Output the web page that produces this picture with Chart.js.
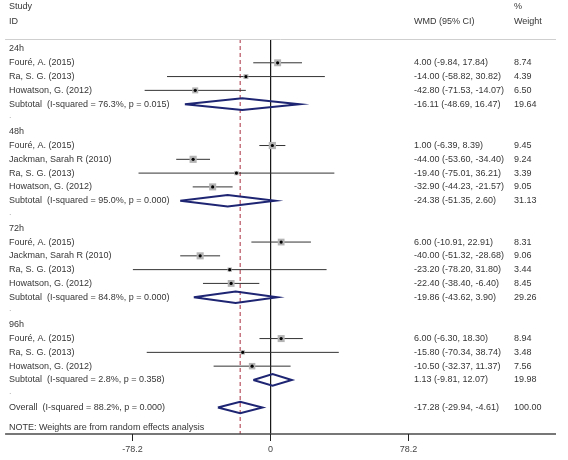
<!DOCTYPE html>
<html>
<head>
<meta charset="utf-8">
<script src="https://cdn.jsdelivr.net/npm/chart.js@4"></script>
<style>
  html, body { margin: 0; padding: 0; background: #fff; }
  #wrap { width: 568px; height: 460px; }
</style>
</head>
<body>
<div id="wrap"><canvas id="forest" width="568" height="460"></canvas></div>
<script>
// Group headers and their row positions
const groupLabels = ['24h', '48h', '72h', '96h'];
const groupRows = [0, 6, 13, 20];
const blankRows = [5, 12, 19, 25];

// Individual studies
const studyLabels = [
    'Fouré, A. (2015)', 'Ra, S. G. (2013)', 'Howatson, G. (2012)',
    'Fouré, A. (2015)', 'Jackman, Sarah R (2010)', 'Ra, S. G. (2013)', 'Howatson, G. (2012)',
    'Fouré, A. (2015)', 'Jackman, Sarah R (2010)', 'Ra, S. G. (2013)', 'Howatson, G. (2012)',
    'Fouré, A. (2015)', 'Ra, S. G. (2013)', 'Howatson, G. (2012)'
];
const studyRows = [1, 2, 3, 7, 8, 9, 10, 14, 15, 16, 17, 21, 22, 23];
const studyWmd = [4.00, -14.00, -42.80, 1.00, -44.00, -19.40, -32.90, 6.00, -40.00, -23.20, -22.40, 6.00, -15.80, -10.50];
const studyLow = [-9.84, -58.82, -71.53, -6.39, -53.60, -75.01, -44.23, -10.91, -51.32, -78.20, -38.40, -6.30, -70.34, -32.37];
const studyHigh = [17.84, 30.82, -14.07, 8.39, -34.40, 36.21, -21.57, 22.91, -28.68, 31.80, -6.40, 18.30, 38.74, 11.37];
const studyWeight = [8.74, 4.39, 6.50, 9.45, 9.24, 3.39, 9.05, 8.31, 9.06, 3.44, 8.45, 8.94, 3.48, 7.56];

// Subtotals and overall
const pooledLabels = [
    'Subtotal  (I-squared = 76.3%, p = 0.015)',
    'Subtotal  (I-squared = 95.0%, p = 0.000)',
    'Subtotal  (I-squared = 84.8%, p = 0.000)',
    'Subtotal  (I-squared = 2.8%, p = 0.358)',
    'Overall  (I-squared = 88.2%, p = 0.000)'
];
const pooledRows = [4, 11, 18, 24, 26];
const pooledWmd = [-16.11, -24.38, -19.86, 1.13, -17.28];
const pooledLow = [-48.69, -51.35, -43.62, -9.81, -29.94];
const pooledHigh = [16.47, 2.60, 3.90, 12.07, -4.61];
const pooledWeight = [19.64, 31.13, 29.26, 19.98, 100.00];

const xTicks = [-78.2, 0, 78.2];
const overallWmd = pooledWmd[pooledWmd.length - 1];

const X_MIN = -150.78, X_MAX = 162.1;
const Y_MIN = -0.725, Y_MAX = 27.92;
const FONT = '9px "Liberation Sans", Arial, sans-serif';
const TEXT = '#363636';

const datasets = [];

// reference lines
datasets.push({
    type: 'line', order: 5,
    data: [{ x: 0, y: Y_MIN }, { x: 0, y: Y_MAX }],
    borderColor: '#1a1a1a', borderWidth: 1, pointRadius: 0
});
datasets.push({
    type: 'line', order: 5,
    data: [{ x: overallWmd, y: Y_MIN }, { x: overallWmd, y: Y_MAX }],
    borderColor: '#a8303f', borderWidth: 1, borderDash: [4, 3], pointRadius: 0
});

// confidence intervals
studyRows.forEach((r, i) => {
    datasets.push({
        type: 'line', order: 3,
        data: [{ x: studyLow[i], y: r }, { x: studyHigh[i], y: r }],
        borderColor: '#333', borderWidth: 1, pointRadius: 0
    });
});

// weight squares (area ~ weight)
datasets.push({
    type: 'scatter', order: 2,
    data: studyRows.map((r, i) => ({ x: studyWmd[i], y: r })),
    pointStyle: 'rect',
    pointRadius: studyWeight.map(w => 2.35 * Math.sqrt(w) / Math.SQRT2),
    backgroundColor: '#b4b4b4', borderWidth: 0
});

// point estimates
datasets.push({
    type: 'scatter', order: 1,
    data: studyRows.map((r, i) => ({ x: studyWmd[i], y: r })),
    pointStyle: 'circle', pointRadius: 1.6,
    backgroundColor: '#000', borderWidth: 0
});

// diamonds
const halfH = 0.42;
pooledRows.forEach((r, i) => {
    datasets.push({
        type: 'line', order: 1,
        data: [
            { x: pooledLow[i], y: r },
            { x: pooledWmd[i], y: r - halfH },
            { x: pooledHigh[i], y: r },
            { x: pooledWmd[i], y: r + halfH },
            { x: pooledLow[i], y: r }
        ],
        borderColor: '#1e2572', borderWidth: 2, borderJoinStyle: 'miter',
        pointRadius: 0, fill: false, tension: 0
    });
});

function fmt(v) { return v.toFixed(2); }

const textPlugin = {
    id: 'forestText',
    afterDraw(chart) {
        const ctx = chart.ctx;
        const xs = chart.scales.x, ys = chart.scales.y;
        const area = chart.chartArea;
        const colL = 9, colW = 414, colP = 514;

        ctx.save();
        // header separator
        ctx.strokeStyle = '#cfcfcf';
        ctx.lineWidth = 1;
        ctx.beginPath();
        ctx.moveTo(area.left, area.top + 0.5);
        ctx.lineTo(area.right, area.top + 0.5);
        ctx.stroke();

        // x axis
        ctx.strokeStyle = '#4a4a4a';
        ctx.lineWidth = 1.5;
        ctx.beginPath();
        ctx.moveTo(area.left, area.bottom);
        ctx.lineTo(area.right, area.bottom);
        ctx.stroke();
        ctx.lineWidth = 1;
        ctx.strokeStyle = '#222';
        ctx.font = FONT;
        ctx.fillStyle = '#444';
        ctx.textAlign = 'center';
        ctx.textBaseline = 'middle';
        xTicks.forEach(t => {
            const px = Math.round(xs.getPixelForValue(t) - 0.5) + 0.5;
            ctx.beginPath();
            ctx.moveTo(px, area.bottom);
            ctx.lineTo(px, area.bottom + 7);
            ctx.stroke();
            ctx.fillText(String(t), px, area.bottom + 16);
        });

        ctx.fillStyle = TEXT;
        ctx.textAlign = 'left';
        // headers
        ctx.fillText('Study', colL, ys.getPixelForValue(-3.05));
        ctx.fillText('ID', colL, ys.getPixelForValue(-1.96));
        ctx.fillText('WMD (95% CI)', colW, ys.getPixelForValue(-1.96));
        ctx.fillText('%', colP, ys.getPixelForValue(-3.05));
        ctx.fillText('Weight', colP, ys.getPixelForValue(-1.96));

        groupRows.forEach((r, i) => ctx.fillText(groupLabels[i], colL, ys.getPixelForValue(r)));
        studyRows.forEach((r, i) => {
            const py = ys.getPixelForValue(r);
            ctx.fillText(studyLabels[i], colL, py);
            ctx.fillText(fmt(studyWmd[i]) + ' (' + fmt(studyLow[i]) + ', ' + fmt(studyHigh[i]) + ')', colW, py);
            ctx.fillText(fmt(studyWeight[i]), colP, py);
        });
        pooledRows.forEach((r, i) => {
            const py = ys.getPixelForValue(r);
            ctx.fillText(pooledLabels[i], colL, py);
            ctx.fillText(fmt(pooledWmd[i]) + ' (' + fmt(pooledLow[i]) + ', ' + fmt(pooledHigh[i]) + ')', colW, py);
            ctx.fillText(fmt(pooledWeight[i]), colP, py);
        });
        ctx.fillText('NOTE: Weights are from random effects analysis', colL, ys.getPixelForValue(27.48));

        ctx.fillStyle = '#b0b0b0';
        blankRows.forEach(r => ctx.fillText('.', colL, ys.getPixelForValue(r) - 2));
        ctx.restore();
    }
};

new Chart(document.getElementById('forest'), {
    type: 'scatter',
    data: { datasets: datasets },
    options: {
        responsive: false,
        animation: false,
        events: [],
        devicePixelRatio: 1,
        layout: { padding: { left: 3, right: 12, top: 39, bottom: 26 } },
        plugins: { legend: { display: false }, tooltip: { enabled: false } },
        scales: {
            x: { type: 'linear', min: X_MIN, max: X_MAX, display: false },
            y: { type: 'linear', min: Y_MIN, max: Y_MAX, reverse: true, display: false }
        }
    },
    plugins: [textPlugin]
});
</script>
</body>
</html>
